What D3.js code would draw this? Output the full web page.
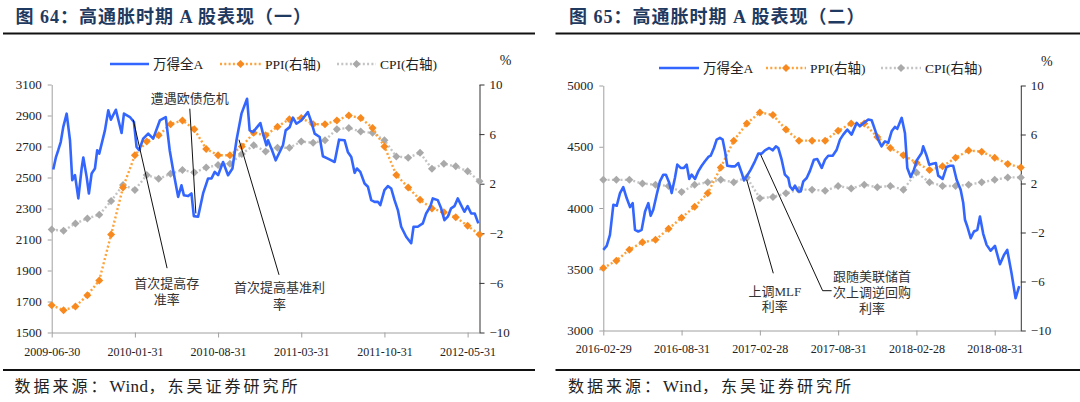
<!DOCTYPE html>
<html><head><meta charset="utf-8">
<script src="https://cdn.jsdelivr.net/npm/d3@7/dist/d3.min.js"></script>
<style>body{margin:0;background:#fff}svg{display:block}</style>
</head><body>
<svg id="c" width="1080" height="402"></svg>
<script>
// ---------------- DATA ----------------
// Panel 1: 2009-06 .. 2012-06 (month index 0..36)
const leftTickMonths = [0, 7, 14, 21, 28, 35];
const leftTickLabels = ["2009-06-30", "2010-01-31", "2010-08-31", "2011-03-31", "2011-10-31", "2012-05-31"];
const leftAxisTicks = [1500, 1700, 1900, 2100, 2300, 2500, 2700, 2900, 3100];
const leftPPI = [-7.8,-8.2,-7.9,-7.0,-5.8,-2.1,1.7,4.3,5.4,5.9,6.8,7.1,6.4,4.8,4.3,4.3,5.0,6.1,5.9,6.6,7.2,7.3,6.8,6.8,7.1,7.5,7.3,6.5,5.0,2.7,1.7,0.7,0.0,-0.3,-0.7,-1.4,-2.1];
const leftCPI = [-1.7,-1.8,-1.2,-0.8,-0.5,0.6,1.9,1.5,2.7,2.4,2.8,3.1,2.9,3.3,3.5,3.6,4.4,5.1,4.6,4.9,4.9,5.4,5.3,5.5,6.4,6.5,6.2,6.1,5.5,4.2,4.1,4.5,3.2,3.6,3.4,3.0,2.2];
// Wind All-A index: [month position, level]
const leftIndex = [[0.13,2551],[0.36,2632],[0.55,2676],[0.76,2729],[0.97,2825],[1.26,2912],[1.54,2740],[1.73,2483],[1.96,2515],[2.24,2365],[2.52,2558],[2.66,2629],[2.94,2504],[3.13,2397],[3.36,2526],[3.64,2558],[3.83,2676],[4.0,2654],[4.48,2804],[4.76,2933],[4.98,2873],[5.4,2937],[5.88,2787],[6.08,2912],[6.58,2890],[6.92,2858],[7.14,2697],[7.36,2676],[7.7,2751],[8.12,2783],[8.54,2751],[9.1,2868],[9.6,2890],[9.93,2676],[10.22,2547],[10.64,2375],[10.92,2450],[11.12,2386],[11.48,2380],[11.76,2397],[11.96,2251],[12.32,2247],[12.74,2397],[13.16,2494],[13.45,2494],[13.72,2536],[14.0,2515],[14.42,2600],[14.84,2515],[15.21,2558],[15.55,2740],[15.97,2912],[16.44,3008],[16.66,2804],[16.94,2793],[17.56,2851],[17.78,2783],[18.07,2708],[18.2,2740],[18.49,2686],[18.85,2611],[19.46,2708],[19.69,2804],[20.03,2825],[20.3,2886],[20.59,2847],[21.0,2868],[21.56,2922],[21.85,2858],[22.13,2783],[22.55,2761],[22.82,2637],[23.24,2622],[23.53,2611],[23.81,2600],[24.18,2744],[24.65,2740],[24.92,2665],[25.21,2632],[25.49,2530],[25.68,2558],[25.97,2536],[26.33,2461],[26.61,2440],[26.89,2354],[27.17,2343],[27.45,2343],[27.65,2322],[28.0,2418],[28.29,2444],[28.57,2429],[28.85,2354],[29.13,2290],[29.41,2182],[29.83,2118],[30.25,2076],[30.45,2182],[30.8,2182],[31.23,2204],[31.51,2268],[31.85,2311],[32.07,2365],[32.49,2354],[32.77,2301],[33.05,2225],[33.33,2247],[33.61,2301],[33.89,2315],[34.17,2365],[34.45,2322],[34.73,2279],[35.0,2315],[35.3,2268],[35.6,2268],[35.9,2204]];

// Panel 2: 2016-02 .. 2018-10 (month index 0..32)
const rightTickMonths = [0, 6, 12, 18, 24, 30];
const rightTickLabels = ["2016-02-29", "2016-08-31", "2017-02-28", "2017-08-31", "2018-02-28", "2018-08-31"];
const rightAxisTicks = [3000, 3500, 4000, 4500, 5000];
const rightPPI = [-4.9,-4.3,-3.4,-2.8,-2.6,-1.7,-0.8,0.1,1.2,3.3,5.5,6.9,7.8,7.6,6.4,5.5,5.5,5.5,6.3,6.9,6.9,5.8,4.9,4.3,3.7,3.1,3.4,4.1,4.7,4.6,4.1,3.6,3.3];
const rightCPI = [2.3,2.3,2.3,2.0,1.9,1.8,1.3,1.9,2.1,2.3,2.1,2.5,0.8,0.9,1.2,1.5,1.5,1.4,1.8,1.6,1.9,1.7,1.8,1.5,2.9,2.1,1.8,1.8,1.9,2.1,2.3,2.5,2.5];
const rightIndex = [[0,3658],[0.26,3691],[0.51,3781],[0.77,4026],[1.03,4018],[1.28,4122],[1.53,4171],[1.79,4081],[2.05,4007],[2.25,4040],[2.43,3822],[2.68,3808],[2.94,3822],[3.2,3972],[3.45,4040],[3.63,3936],[3.83,3985],[4.09,4108],[4.34,4217],[4.6,4272],[4.8,4272],[5.06,4204],[5.24,4122],[5.49,4245],[5.67,4354],[5.93,4327],[6.18,4327],[6.39,4354],[6.59,4237],[6.77,4272],[7.03,4237],[7.28,4299],[7.54,4345],[7.79,4381],[8.05,4417],[8.23,4427],[8.48,4490],[8.69,4558],[8.94,4572],[9.15,4558],[9.33,4462],[9.5,4345],[9.84,4340],[10.09,4340],[10.34,4367],[10.61,4286],[10.78,4225],[10.99,4258],[11.3,4313],[11.62,4381],[11.88,4444],[12.14,4444],[12.39,4471],[12.72,4490],[12.98,4471],[13.23,4503],[13.41,4490],[13.67,4394],[13.92,4272],[14.18,4245],[14.31,4176],[14.51,4149],[14.69,4182],[14.94,4135],[15.13,4135],[15.33,4217],[15.59,4245],[15.84,4303],[16.14,4394],[16.4,4400],[16.74,4327],[16.99,4394],[17.24,4427],[17.58,4427],[17.89,4476],[18.14,4558],[18.39,4599],[18.7,4640],[19.03,4599],[19.42,4695],[19.67,4667],[19.98,4695],[20.31,4722],[20.57,4716],[20.82,4640],[21.07,4558],[21.33,4503],[21.59,4544],[21.84,4531],[22.1,4626],[22.35,4662],[22.53,4646],[22.87,4736],[23.12,4613],[23.3,4327],[23.56,4253],[23.81,4313],[24.06,4394],[24.4,4449],[24.52,4503],[24.78,4427],[24.98,4354],[25.24,4362],[25.49,4367],[25.67,4264],[26.01,4237],[26.31,4335],[26.57,4345],[26.82,4345],[27.08,4231],[27.39,4149],[27.59,4040],[27.72,3904],[27.9,3849],[28.16,3754],[28.41,3808],[28.67,3822],[28.87,3930],[29.12,3789],[29.38,3699],[29.69,3652],[30.02,3691],[30.4,3541],[30.71,3617],[30.96,3658],[31.29,3467],[31.6,3263],[31.88,3363]];

const rightAxisPct = [-10, -6, -2, 2, 6, 10];
const legendNames = ["万得全A", "PPI(右轴)", "CPI(右轴)"];

// annotations: text lines + leader line points (month, index level)
const leftNotes = [
  {lines:["遭遇欧债危机"], tx:11.62, ty:[3008], path:[[11.62,2944],[12.13,2268]]},
  {lines:["首次提高存","准率"], tx:9.69, ty:[1818,1711], path:[[6.86,2873],[9.71,1915]]},
  {lines:["首次提高基准利","率"], tx:19.18, ty:[1788,1680], path:[[15.76,2744],[19.13,1872]]}
];
const rightNotes = [
  {lines:["上调MLF","利率"], tx:13.15, ty:[3317,3194], path:[[10.99,4231],[13.03,3467]]},
  {lines:["跟随美联储首","次上调逆回购","利率"], tx:20.59, ty:[3440,3312,3181], path:[[12.06,4435],[16.81,3325],[17.5,3325]]}
];

// ---------------- DRAW ----------------
const svg = d3.select("#c");
const SERIF = "'Liberation Serif','Times New Roman','Noto Sans CJK SC',serif";
const BLUE = "#3366FF", ORANGE_L = "#FFA238", ORANGE_M = "#F7891E", GREY_L = "#C4C4C4", GREY_M = "#A9A9A9";
const DASH = "2 2.3";

function drawPanel(p) {
  const g = svg.append("g");
  // title + rules
  g.append("text").attr("x", p.titleX).attr("y", 17).attr("dominant-baseline", "central")
    .attr("font-family", SERIF).attr("font-weight", "bold").attr("font-size", 18)
    .attr("letter-spacing", 1).attr("fill", "#1F3A60").text(p.title);
  g.append("line").attr("x1", p.ruleX0).attr("x2", p.ruleX1).attr("y1", 33.5).attr("y2", 33.5)
    .attr("stroke", "#111").attr("stroke-width", 2.2);
  g.append("line").attr("x1", p.ruleX0).attr("x2", p.ruleX1).attr("y1", 370).attr("y2", 370)
    .attr("stroke", "#111").attr("stroke-width", 2.2);
  const src = g.append("text").attr("x", p.titleX - 1).attr("y", 386).attr("dominant-baseline", "central")
    .attr("font-family", SERIF).attr("font-size", 16).attr("fill", "#222");
  src.append("tspan").attr("letter-spacing", 3).text("数据来源：");
  src.append("tspan").attr("font-size", 17).attr("letter-spacing", 0.5).text("Wind");
  src.append("tspan").attr("letter-spacing", 3).text("，东吴证券研究所");

  const x = d3.scaleLinear().domain([0, p.nMonths]).range([p.x0, p.x1]);
  const yL = d3.scaleLinear().domain([p.leftTicks[0], p.leftTicks[p.leftTicks.length-1]]).range([p.yB, p.yT]);
  const yR = d3.scaleLinear().domain([-10, 10]).range([p.yB, p.yT]);

  // axes
  const aL = g.append("g").attr("transform", `translate(${p.x0},0)`)
    .call(d3.axisLeft(yL).tickValues(p.leftTicks).tickFormat(d3.format("d")).tickSize(4).tickSizeOuter(0).tickPadding(6));
  const aR = g.append("g").attr("transform", `translate(${p.x1},0)`)
    .call(d3.axisRight(yR).tickValues(rightAxisPct).tickSize(5).tickSizeOuter(0).tickPadding(5));
  const aB = g.append("g").attr("transform", `translate(0,${p.yB})`)
    .call(d3.axisBottom(x).tickValues(p.tickMonths).tickFormat((d,i)=>p.tickLabels[i]).tickSize(5).tickSizeOuter(0).tickPadding(p.bPad));
  [aL, aR, aB].forEach(a => a.selectAll("text").attr("font-family", SERIF).attr("fill", "#222"));
  aL.selectAll("text").attr("font-size", 13);
  aR.selectAll("text").attr("font-size", 13);
  aB.selectAll("text").attr("font-size", 12);
  aL.selectAll("path,line").attr("stroke", "#A0A0A0");
  aB.selectAll("path,line").attr("stroke", "#A0A0A0");
  aR.selectAll("path,line").attr("stroke", "#333");
  g.append("text").attr("x", p.x1 + 26).attr("y", p.yT - 24).attr("text-anchor", "middle")
    .attr("dominant-baseline", "central").attr("font-family", SERIF).attr("font-size", 14).attr("fill", "#222").text("%");

  // series
  const months = d3.range(p.cpi.length);
  const dotted = (vals, color) => g.append("path").datum(months)
    .attr("d", d3.line().x(i => x(i)).y(i => yR(vals[i])))
    .attr("fill", "none").attr("stroke", color).attr("stroke-width", 2.4)
    .attr("stroke-dasharray", DASH);
  const marks = (vals, color) => g.append("g").selectAll("path").data(months).join("path")
    .attr("d", d3.symbol(d3.symbolSquare, 32)())
    .attr("transform", i => `translate(${x(i)},${yR(vals[i])}) rotate(45)`).attr("fill", color);
  dotted(p.cpi, GREY_L); marks(p.cpi, GREY_M);
  dotted(p.ppi, ORANGE_L); marks(p.ppi, ORANGE_M);
  g.append("path").datum(p.index)
    .attr("d", d3.line().x(d => x(d[0])).y(d => yL(d[1])))
    .attr("fill", "none").attr("stroke", BLUE).attr("stroke-width", 2.6).attr("stroke-linejoin", "round");

  // annotations
  p.notes.forEach(n => {
    g.append("path").attr("d", d3.line().x(d => x(d[0])).y(d => yL(d[1]))(n.path))
      .attr("fill", "none").attr("stroke", "#111").attr("stroke-width", 1);
    n.lines.forEach((t, k) => g.append("text").attr("x", x(n.tx)).attr("y", yL(n.ty[k]))
      .attr("text-anchor", "middle").attr("dominant-baseline", "central")
      .attr("font-family", SERIF).attr("font-size", 13).attr("fill", "#333").text(t));
  });

  // legend
  const L = p.legend, ly = L.y;
  g.append("line").attr("x1", L.b[0]).attr("x2", L.b[1]).attr("y1", ly).attr("y2", ly)
    .attr("stroke", BLUE).attr("stroke-width", 2.6);
  [[L.p, ORANGE_L, ORANGE_M], [L.c, GREY_L, GREY_M]].forEach(([seg, cl, cm]) => {
    g.append("line").attr("x1", seg[0]).attr("x2", seg[1]).attr("y1", ly).attr("y2", ly)
      .attr("stroke", cl).attr("stroke-width", 2.4).attr("stroke-dasharray", DASH);
    g.append("path").attr("d", d3.symbol(d3.symbolSquare, 32)())
      .attr("transform", `translate(${(seg[0]+seg[1])/2},${ly}) rotate(45)`).attr("fill", cm);
  });
  [L.b, L.p, L.c].forEach((seg, k) => g.append("text").attr("x", seg[1] + 4).attr("y", ly)
    .attr("dominant-baseline", "central").attr("font-family", SERIF).attr("font-size", 13.5)
    .attr("fill", "#222").text(legendNames[k]));
}

drawPanel({
  title: "图 64：高通胀时期 A 股表现（一）", titleX: 15.5, ruleX0: 3, ruleX1: 535,
  x0: 51.7, x1: 479.5, yT: 84.5, yB: 332.5, nMonths: 36, bPad: 10,
  leftTicks: leftAxisTicks, tickMonths: leftTickMonths, tickLabels: leftTickLabels,
  ppi: leftPPI, cpi: leftCPI, index: leftIndex, notes: leftNotes,
  legend: {y: 64, b: [110, 149], p: [220, 261], c: [337, 376]}
});
drawPanel({
  title: "图 65：高通胀时期 A 股表现（二）", titleX: 569, ruleX0: 555.5, ruleX1: 1080,
  x0: 603.3, x1: 1020.8, yT: 85.5, yB: 330.5, nMonths: 32, bPad: 8.5,
  leftTicks: rightAxisTicks, tickMonths: rightTickMonths, tickLabels: rightTickLabels,
  ppi: rightPPI, cpi: rightCPI, index: rightIndex, notes: rightNotes,
  legend: {y: 68, b: [659, 699], p: [766, 806], c: [881, 921]}
});
</script>
</body></html>
